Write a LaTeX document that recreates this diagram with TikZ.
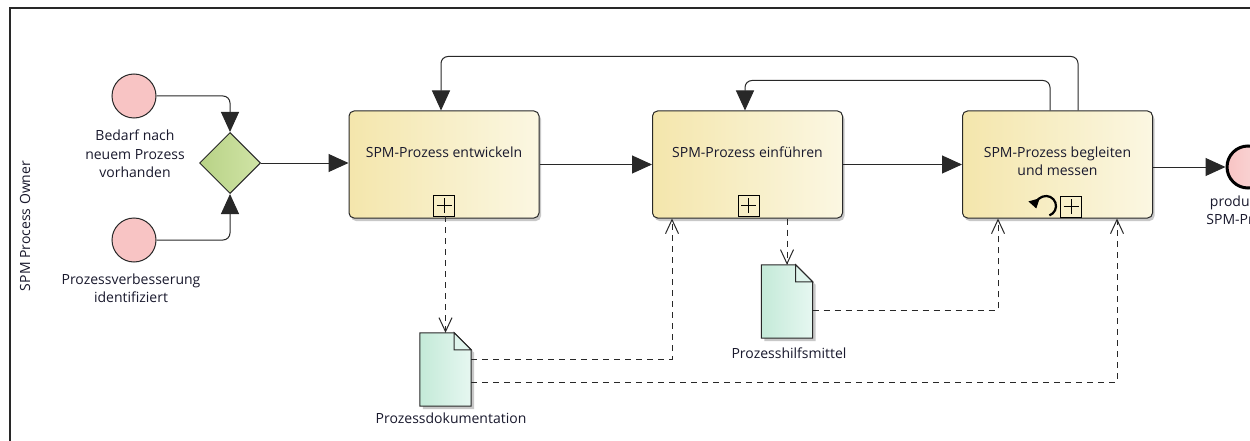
\documentclass[tikz,border=0pt]{standalone}
\usepackage{fontspec}
\setmainfont{Open Sans}
\usetikzlibrary{arrows.meta,shapes.geometric,calc}
\definecolor{lineC}{RGB}{40,40,40}
\definecolor{taskL}{RGB}{244,230,172}
\definecolor{taskR}{RGB}{251,247,226}
\definecolor{startC}{RGB}{248,196,196}
\definecolor{gwL}{RGB}{184,210,134}
\definecolor{gwR}{RGB}{208,228,166}
\definecolor{docL}{RGB}{196,234,216}
\definecolor{docR}{RGB}{230,247,241}
\definecolor{txt}{RGB}{25,25,45}
\definecolor{shadowC}{RGB}{200,200,200}
\tikzset{
  taskbox/.style={rectangle, rounded corners=5pt, draw=lineC, line width=1pt,
    left color=taskL, right color=taskR, minimum width=190pt, minimum height=107pt, inner sep=0pt},
  startev/.style={circle, draw=lineC, line width=1pt, fill=startC, minimum size=44pt, inner sep=0pt},
  endev/.style={circle, draw=black, line width=3pt, left color=startC, right color=startC!60!white, minimum size=42pt, inner sep=0pt},
  gateway/.style={diamond, draw=lineC, line width=1pt, left color=gwL, right color=gwR, minimum width=61pt, minimum height=61pt, inner sep=0pt},
  docslot/.style={rectangle, minimum width=51pt, minimum height=73pt, inner sep=0pt},
  lbl/.style={text=txt, font=\fontsize{14}{18.5}\selectfont, align=center, inner sep=0pt},
  flow/.style={draw=lineC, line width=1pt, rounded corners=7pt, -{Triangle[length=20pt,width=18pt]}},
  assoc/.style={draw=lineC, line width=1pt, dash pattern=on 6pt off 5pt, -{Straight Barb[length=14pt,width=13pt]}},
  marker/.style={rectangle, draw=black, line width=0.9pt, minimum size=21pt, inner sep=0pt},
}
\begin{document}
\begin{tikzpicture}[x=1pt,y=-1pt]
\useasboundingbox (0,0) rectangle (1250,441);
\clip (0,0) rectangle (1250,441);
\fill[white] (0,0) rectangle (1250,441);
% pool frame
\draw[line width=2pt, lineC] (10,445) -- (10,8) -- (1252,8);
\node[lbl, rotate=90] (lane) at (25,226) {SPM Process Owner};

% events
\node[startev] (s1) at (134,96) {};
\node[lbl] (s1l) at (135,154) {Bedarf nach\\neuem Prozess\\vorhanden};
\node[startev] (s2) at (134,240) {};
\node[lbl] (s2l) at (131,288) {Prozessverbesserung\\identifiziert};
\node[gateway] (gw) at (230,163) {};

% shadows
\foreach \cx in {444,747.5,1057.5}
  \fill[shadowC, rounded corners=5pt] (\cx-93,114) rectangle (\cx+97,221);

% tasks
\node[taskbox] (t1) at (444,164.5) {};
\node[taskbox] (t2) at (747.5,164.5) {};
\node[taskbox] (t3) at (1057.5,164.5) {};
\node[lbl] (t1l) at (444,152) {SPM-Prozess entwickeln};
\node[lbl] (t2l) at (747.5,152) {SPM-Prozess einführen};
\node[lbl] (t3l) at (1057.5,161) {SPM-Prozess begleiten\\und messen};
\node[marker] (m1) at (444,205.5) {};
\node[marker] (m2) at (748.5,205.5) {};
\node[marker] (m3) at (1071,206.5) {};
\foreach \m in {m1,m2,m3}{
  \draw[line width=0.9pt] ([xshift=-7.5pt]\m.center) -- ([xshift=7.5pt]\m.center);
  \draw[line width=0.9pt] ([yshift=-7.5pt]\m.center) -- ([yshift=7.5pt]\m.center);
}
\coordinate (loopc) at (1046,206);
\draw[line width=2.2pt, -{Triangle[length=9pt,width=11pt]}] ([shift={(70:10)}]loopc) arc[start angle=70, end angle=-195, radius=10];

% end event
\node[endev] (e) at (1248,167) {};
\node[lbl] (el) at (1248,210) {produktiver\\SPM-Prozess};

% data objects
\node[docslot] (d1) at (445.5,369.5) {};
\node[docslot] (d2) at (787,301.5) {};
\foreach \d in {d1,d2}{
  \fill[shadowC] ([xshift=3pt,yshift=-3pt]\d.north west) -- ([xshift=-14pt,yshift=-3pt]\d.north east) -- ([xshift=3pt,yshift=-20pt]\d.north east) -- ([xshift=3pt,yshift=-3pt]\d.south east) -- ([xshift=3pt,yshift=-3pt]\d.south west) -- cycle;
  \draw[draw=lineC, line width=1pt, left color=docL, right color=docR] (\d.north west) -- ([xshift=-17pt]\d.north east) -- ([yshift=-17pt]\d.north east) -- (\d.south east) -- (\d.south west) -- cycle;
  \draw[draw=lineC, line width=1pt, fill=docR!80!docL] ([xshift=-17pt]\d.north east) -- ([xshift=-17pt,yshift=-17pt]\d.north east) -- ([yshift=-17pt]\d.north east) -- cycle;
}
\node[lbl] (d1l) at (451,418) {Prozessdokumentation};
\node[lbl] (d2l) at (789,353) {Prozesshilfsmittel};

% sequence flows
\draw[flow] (s1.east) -| (gw.north);
\draw[flow] (s2.east) -| (gw.south);
\draw[flow] (gw.east) -- (gw.east -| t1.west);
\draw[flow] (t1.east) -- (t2.west);
\draw[flow] (t2.east) -- (t3.west);
\draw[flow] (t3.east |- e.west) -- (e.west);
\draw[flow] ([xshift=20.5pt]t3.north) -- ++(0,-54) -| ([xshift=-3pt]t1.north);
\draw[flow] ([xshift=-7.5pt]t3.north) -- ++(0,-30) -| ([xshift=-2.5pt]t2.north);

% associations
\draw[assoc] (d1.north |- m1.south) -- (d1.north);
\draw[assoc] (d2.north |- t2.south) -- (d2.north);
\draw[assoc] ([yshift=10.5pt]d1.east) -| ([xshift=-75.5pt]t2.south);
\draw[assoc] ([yshift=-12.5pt]d1.east) -| ([xshift=59.5pt]t3.south);
\draw[assoc] ([yshift=-8.5pt]d2.east) -| ([xshift=-59.5pt]t3.south);
\end{tikzpicture}
\end{document}
